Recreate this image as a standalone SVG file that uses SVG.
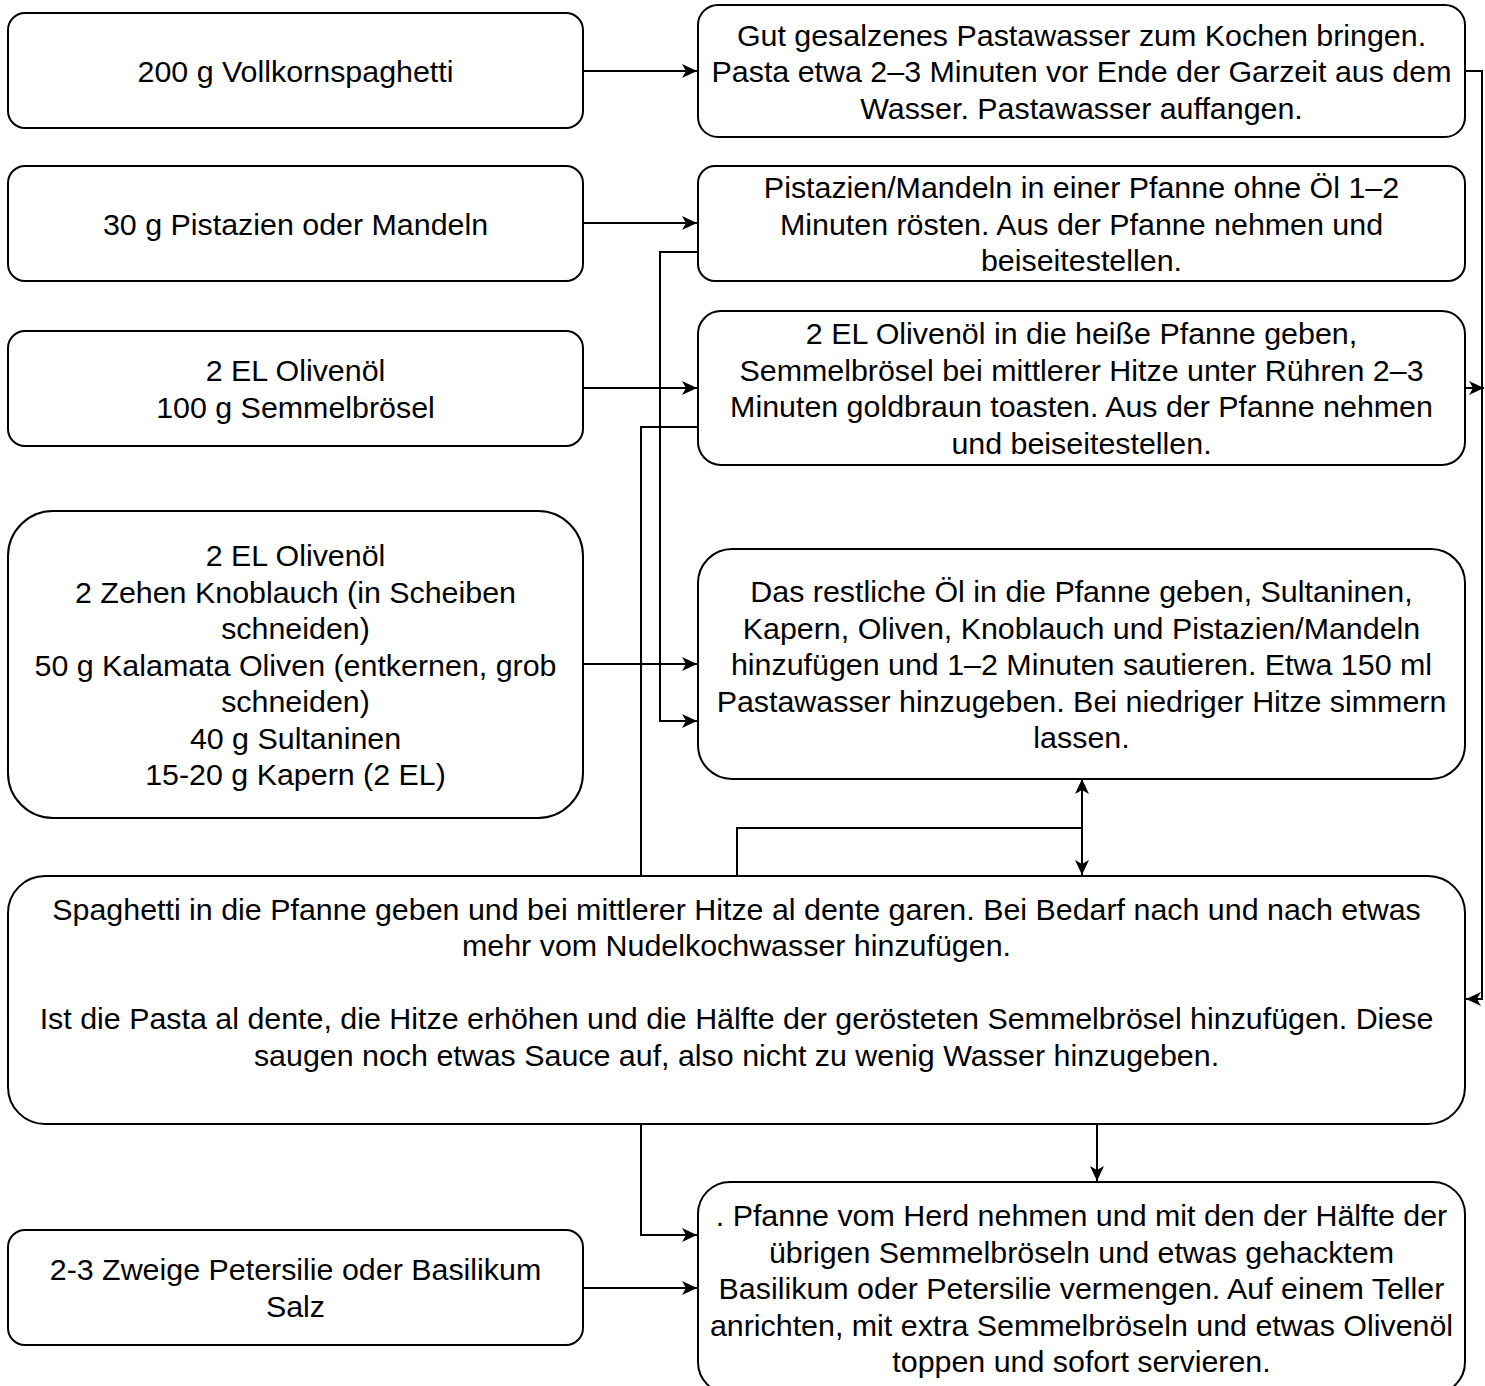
<svg xmlns="http://www.w3.org/2000/svg" width="1485" height="1386" viewBox="0 0 1485 1386">
<style>
.box{fill:#fff;stroke:#000;stroke-width:2}
.t{font-family:"Liberation Sans",Arial,sans-serif;font-size:30.4px;fill:#000;text-anchor:middle}
.c{fill:none;stroke:#000;stroke-width:2}
.a{marker-end:url(#arr)}
</style>
<defs>
<marker id="arr" markerUnits="userSpaceOnUse" markerWidth="16" markerHeight="14" viewBox="0 0 16 14" refX="15" refY="7" orient="auto-start-reverse">
<path d="M0,0 L15,7 L0,14 L4,7 Z" fill="#000"/>
</marker>
</defs>
<rect width="1485" height="1386" fill="#fff"/>
<g id="connectors">
<path class="c a" d="M583,71 H697"/>
<path class="c a" d="M583,223 H697"/>
<path class="c a" d="M583,388 H697"/>
<path class="c a" d="M583,664 H697"/>
<path class="c a" d="M698,252 H660 V721 H697"/>
<path class="c" d="M698,427 H641 V876"/>
<path class="c" d="M737,876 V828 H1082"/>
<path class="c a" d="M1082,779 V875" style="marker-start:url(#arr)"/>
<path class="c a" d="M1465,71 H1482 V999 H1466"/>
<path class="c a" d="M1465,388 H1484"/>
<path class="c a" d="M641,1124 V1235 H697"/>
<path class="c a" d="M1097,1124 V1181"/>
<path class="c a" d="M583,1288 H697"/>
</g>
<g id="n1"><rect class="box" x="8" y="13" width="575" height="115" rx="17"/><text class="t" x="295.5" y="81.5">200 g Vollkornspaghetti</text></g>
<g id="n2"><rect class="box" x="8" y="166" width="575" height="115" rx="17"/><text class="t" x="295.5" y="234.5">30 g Pistazien oder Mandeln</text></g>
<g id="n3"><rect class="box" x="8" y="331" width="575" height="115" rx="17"/><text class="t"><tspan x="295.5" y="381.25">2 EL Olivenöl</tspan><tspan x="295.5" y="417.75">100 g Semmelbrösel</tspan></text></g>
<g id="n4"><rect class="box" x="8" y="511" width="575" height="307" rx="45"/><text class="t"><tspan x="295.5" y="566">2 EL Olivenöl</tspan><tspan x="295.5" y="602.5">2 Zehen Knoblauch (in Scheiben</tspan><tspan x="295.5" y="639">schneiden)</tspan><tspan x="295.5" y="675.5">50 g Kalamata Oliven (entkernen, grob</tspan><tspan x="295.5" y="712">schneiden)</tspan><tspan x="295.5" y="748.5">40 g Sultaninen</tspan><tspan x="295.5" y="785">15-20 g Kapern (2 EL)</tspan></text></g>
<g id="n10"><rect class="box" x="8" y="1230" width="575" height="115" rx="17"/><text class="t"><tspan x="295.5" y="1280.25">2-3 Zweige Petersilie oder Basilikum</tspan><tspan x="295.5" y="1316.75">Salz</tspan></text></g>
<g id="r1"><rect class="box" x="698" y="5" width="767" height="132" rx="20"/><text class="t"><tspan x="1081.5" y="45.5">Gut gesalzenes Pastawasser zum Kochen bringen.</tspan><tspan x="1081.5" y="82">Pasta etwa 2–3 Minuten vor Ende der Garzeit aus dem</tspan><tspan x="1081.5" y="118.5">Wasser. Pastawasser auffangen.</tspan></text></g>
<g id="r2"><rect class="box" x="698" y="166" width="767" height="115" rx="17"/><text class="t"><tspan x="1081.5" y="198">Pistazien/Mandeln in einer Pfanne ohne Öl 1–2</tspan><tspan x="1081.5" y="234.5">Minuten rösten. Aus der Pfanne nehmen und</tspan><tspan x="1081.5" y="271">beiseitestellen.</tspan></text></g>
<g id="r3"><rect class="box" x="698" y="311" width="767" height="154" rx="23"/><text class="t"><tspan x="1081.5" y="344.25">2 EL Olivenöl in die heiße Pfanne geben,</tspan><tspan x="1081.5" y="380.75">Semmelbrösel bei mittlerer Hitze unter Rühren 2–3</tspan><tspan x="1081.5" y="417.25">Minuten goldbraun toasten. Aus der Pfanne nehmen</tspan><tspan x="1081.5" y="453.75">und beiseitestellen.</tspan></text></g>
<g id="r4"><rect class="box" x="698" y="549" width="767" height="230" rx="34"/><text class="t"><tspan x="1081.5" y="602">Das restliche Öl in die Pfanne geben, Sultaninen,</tspan><tspan x="1081.5" y="638.5">Kapern, Oliven, Knoblauch und Pistazien/Mandeln</tspan><tspan x="1081.5" y="675">hinzufügen und 1–2 Minuten sautieren. Etwa 150 ml</tspan><tspan x="1081.5" y="711.5">Pastawasser hinzugeben. Bei niedriger Hitze simmern</tspan><tspan x="1081.5" y="748">lassen.</tspan></text></g>
<g id="b"><rect class="box" x="8" y="876" width="1457" height="248" rx="37"/><text class="t"><tspan x="736.5" y="919.75">Spaghetti in die Pfanne geben und bei mittlerer Hitze al dente garen. Bei Bedarf nach und nach etwas</tspan><tspan x="736.5" y="956.25">mehr vom Nudelkochwasser hinzufügen.</tspan><tspan x="736.5" y="1029.25">Ist die Pasta al dente, die Hitze erhöhen und die Hälfte der gerösteten Semmelbrösel hinzufügen. Diese</tspan><tspan x="736.5" y="1065.75">saugen noch etwas Sauce auf, also nicht zu wenig Wasser hinzugeben.</tspan></text></g>
<g id="r6"><rect class="box" x="698" y="1182" width="767" height="212" rx="32"/><text class="t"><tspan x="1081.5" y="1226">. Pfanne vom Herd nehmen und mit den der Hälfte der</tspan><tspan x="1081.5" y="1262.5">übrigen Semmelbröseln und etwas gehacktem</tspan><tspan x="1081.5" y="1299">Basilikum oder Petersilie vermengen. Auf einem Teller</tspan><tspan x="1081.5" y="1335.5">anrichten, mit extra Semmelbröseln und etwas Olivenöl</tspan><tspan x="1081.5" y="1372">toppen und sofort servieren.</tspan></text></g>
</svg>
